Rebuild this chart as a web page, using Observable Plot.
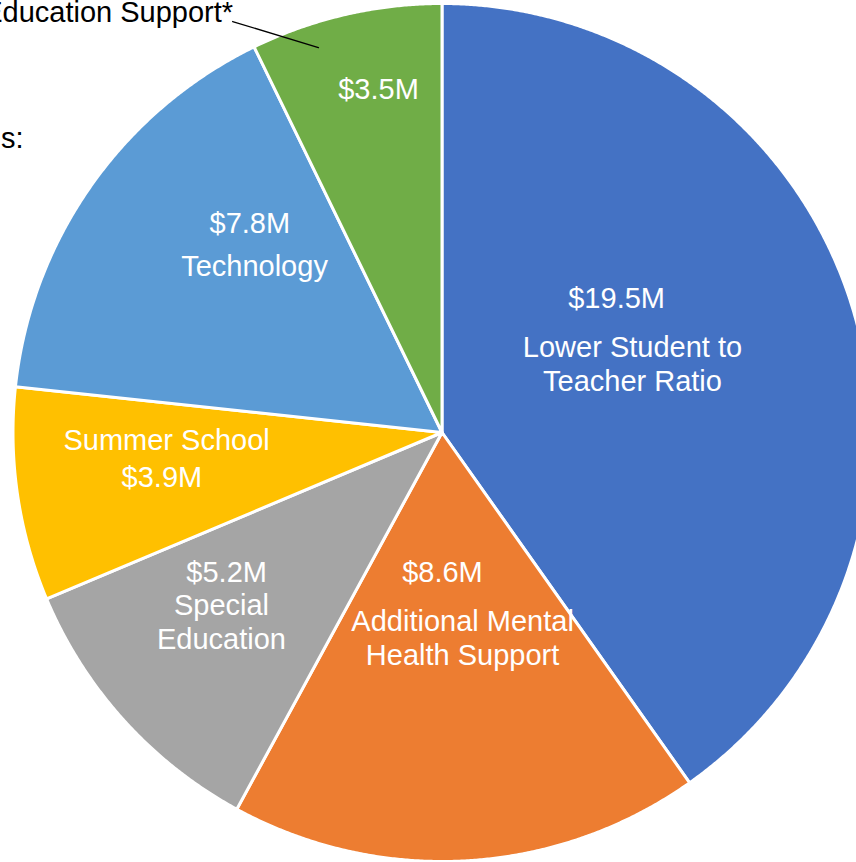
<!DOCTYPE html>
<html>
<head>
<meta charset="utf-8">
<script src="https://cdn.jsdelivr.net/npm/d3@7"></script>
<script src="https://cdn.jsdelivr.net/npm/@observablehq/plot@0.6"></script>
<style>
  html, body { margin: 0; padding: 0; background: #fff; overflow: hidden; }
  #chart { width: 856px; height: 862px; }
</style>
</head>
<body>
<div id="chart"></div>
<script>
// ---- data ----
const categories = [
  "Lower Student to Teacher Ratio",
  "Additional Mental Health Support",
  "Special Education",
  "Summer School",
  "Technology",
  "Education Support*"
];
const amounts = [19.5, 8.6, 5.2, 3.9, 7.8, 3.5]; // $ millions
const nameLabels = [
  "Lower Student to\nTeacher Ratio",
  "Additional Mental\nHealth Support",
  "Special\nEducation",
  "Summer School",
  "Technology",
  null
];
const colors = ["#4472C4", "#ED7D31", "#A5A5A5", "#FFC000", "#5B9BD5", "#70AD47"];
const sideNote = "s:";

// ---- layout (unit-circle coordinates, pie centre at 0,0, radius 1) ----
const valuePos = [[0.407, 0.312], [0.001, -0.326], [-0.502, -0.326], [-0.653, -0.105], [-0.448, 0.487], [-0.148, 0.800]];
const namePos  = [[0.444, 0.161], [0.048, -0.477], [-0.514, -0.440], [-0.642, -0.016], [-0.437, 0.389], null];
const leader = [[-0.488, 0.958], [-0.288, 0.897]];
const outsideLabelPos = [-0.487, 0.979];
const sideNotePos = [-0.9755, 0.6853];

// ---- geometry from data ----
const arcs = d3.pie().sort(null).value(d => d).startAngle(0).endAngle(2 * Math.PI)(amounts);
const step = Math.PI / 720;
const slices = arcs.map((a, i) => {
  const pts = [{x: 0, y: 0}];
  const n = Math.max(2, Math.ceil((a.endAngle - a.startAngle) / step));
  for (let k = 0; k <= n; k++) {
    const t = a.startAngle + (a.endAngle - a.startAngle) * k / n;
    pts.push({x: Math.sin(t), y: Math.cos(t)});
  }
  pts.push({x: 0, y: 0});
  return pts;
});

const valueText = amounts.map((v, i) => ({x: valuePos[i][0], y: valuePos[i][1], t: `$${v.toFixed(1)}M`}));
const nameText = nameLabels.map((t, i) => t ? {x: namePos[i][0], y: namePos[i][1], t} : null).filter(d => d);

const W = 856, H = 862, cx = 441.5, cy = 432, R = 429;
const FS = 29;

const chart = Plot.plot({
  width: W,
  height: H,
  margin: 0,
  x: {domain: [-cx / R, (W - cx) / R], axis: null},
  y: {domain: [-(H - cy) / R, cy / R], axis: null},
  style: {background: "white", fontFamily: "'Liberation Sans', Arial, sans-serif"},
  marks: [
    ...slices.map((pts, i) => Plot.line(pts, {
      x: "x", y: "y", fill: colors[i], stroke: "white", strokeWidth: 3,
      strokeLinejoin: "round", curve: "linear", clip: true
    })),
    Plot.line(leader.map(([x, y]) => ({x, y})), {x: "x", y: "y", stroke: "black", strokeWidth: 1.3}),
    Plot.text(valueText, {x: "x", y: "y", text: "t", fill: "white", fontSize: FS, textAnchor: "middle", lineAnchor: "middle"}),
    Plot.text(nameText, {x: "x", y: "y", text: "t", fill: "white", fontSize: FS, textAnchor: "middle", lineAnchor: "middle", lineHeight: 1.17}),
    Plot.text([{x: outsideLabelPos[0], y: outsideLabelPos[1], t: categories[5]}], {x: "x", y: "y", text: "t", fill: "black", fontSize: FS, textAnchor: "end", lineAnchor: "middle"}),
    Plot.text([{x: sideNotePos[0], y: sideNotePos[1], t: sideNote}], {x: "x", y: "y", text: "t", fill: "black", fontSize: FS, textAnchor: "end", lineAnchor: "middle"})
  ]
});
document.getElementById("chart").appendChild(chart);
</script>
</body>
</html>
